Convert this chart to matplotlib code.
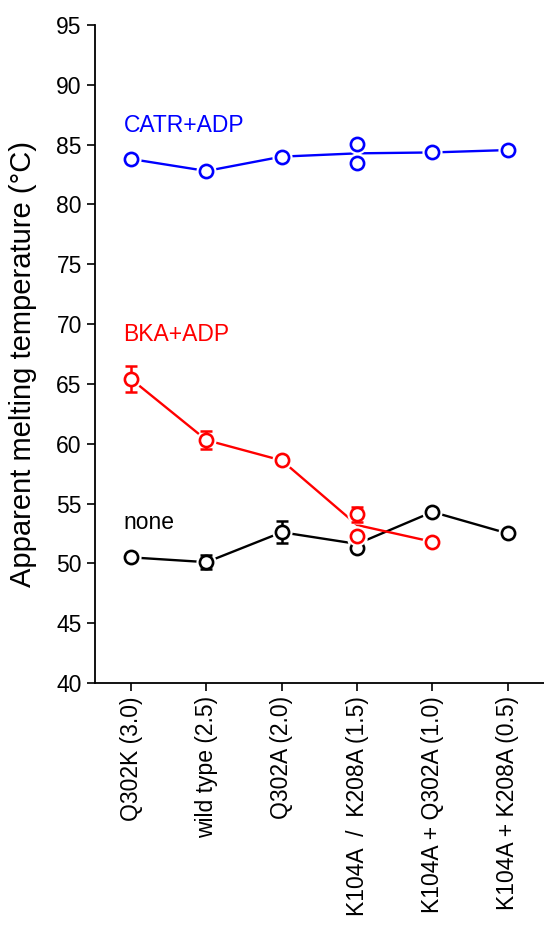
import numpy as np
import matplotlib
matplotlib.use("Agg")
import matplotlib.pyplot as plt

plt.rcParams["font.family"] = ["Liberation Sans", "DejaVu Sans"]

# ── Data ──
categories = ["Q302K (3.0)", "wild type (2.5)", "Q302A (2.0)",
              "K104A  /  K208A (1.5)", "K104A + Q302A (1.0)",
              "K104A + K208A (0.5)"]

none_x = [0, 1, 2, 3, 3, 4, 5]
none_y = [50.5, 50.1, 52.6, 52.0, 51.25, 54.3, 52.5]
none_err = [0, 0.6, 0.9, 0, 0, 0, 0]

bka_x = [0, 1, 2, 3, 3, 4]
bka_y = [65.4, 60.3, 58.6, 54.1, 52.3, 51.8]
bka_err = [1.1, 0.75, 0, 0.65, 0, 0]

catr_x = [0, 1, 2, 3, 3, 4, 5]
catr_y = [83.8, 82.8, 84.0, 85.05, 83.5, 84.35, 84.55]
catr_err = [0, 0, 0, 0, 0, 0, 0]

series = [
    ("none", none_x, none_y, none_err, "black", 53.4),
    ("BKA+ADP", bka_x, bka_y, bka_err, "#ff0000", 69.1),
    ("CATR+ADP", catr_x, catr_y, catr_err, "#0000ff", 86.6),
]

FS = 16.5

fig = plt.figure(figsize=(5.44, 9.31), dpi=100)
ax = fig.add_axes([0.1746, 0.2664, 0.8254, 0.7067])

for i, (name, xs, ys, errs, col, label_y) in enumerate(series):
    xs = np.asarray(xs, float)
    ys = np.asarray(ys, float)
    errs = np.asarray(errs, float)
    z = 2 + i * 3
    ux = np.unique(xs)
    my = np.array([ys[xs == u].mean() for u in ux])
    ax.plot(ux, my, color=col, lw=1.7, zorder=z)
    m = errs > 0
    ax.errorbar(xs[m], ys[m], yerr=errs[m], fmt="none", ecolor=col,
                elinewidth=1.8, capsize=4.5, capthick=1.8, zorder=z + 0.5)
    # white halo to leave a gap between line and marker
    ax.plot(xs, ys, "o", ms=14.5, mfc="white", mec="white", mew=0,
            ls="none", zorder=z + 0.4)
    ax.plot(xs, ys, "o", ms=9.5, mfc="white", mec=col, mew=1.9,
            ls="none", zorder=z + 1)
    ax.text(-0.1, label_y, name, color=col, fontsize=FS,
            ha="left", va="center")

ax.set_xlim(-0.48, 5.48)
ax.set_ylim(40, 95)
ax.set_yticks(np.arange(40, 96, 5))
ax.set_xticks(range(len(categories)))
ax.set_xticklabels(categories, rotation=90, fontsize=FS)
ax.tick_params(axis="y", labelsize=FS)
ax.tick_params(direction="out", length=6, width=1.2, colors="black")
ax.set_ylabel("Apparent melting temperature (\u00b0C)", fontsize=21)
ax.yaxis.set_label_coords(-0.13, 0.485)

ax.spines["top"].set_visible(False)
ax.spines["right"].set_visible(False)
ax.spines["left"].set_linewidth(1.3)
ax.spines["bottom"].set_linewidth(1.3)

fig.savefig("out.png", dpi=100, facecolor="white")
